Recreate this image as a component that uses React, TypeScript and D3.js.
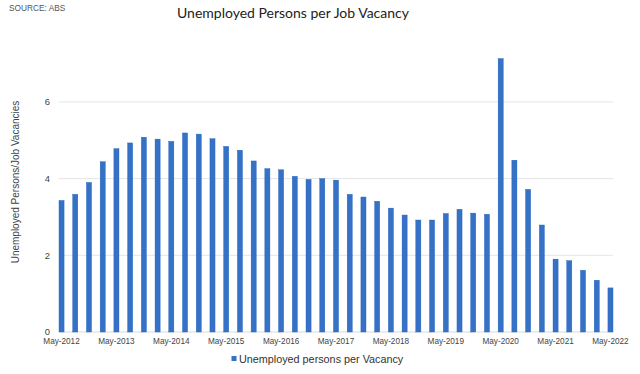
import React from 'react';
import * as d3 from 'd3';

// quarterly observations, May-2012 .. May-2022
const quarters = d3.range(41).map(i => {
  const m = ['May', 'Aug', 'Nov', 'Feb'][i % 4];
  const y = 2012 + Math.floor((i + 1) / 4);
  return `${m}-${y}`;
});

const ratio = [
  3.43, 3.59, 3.90, 4.44, 4.78, 4.93, 5.08, 5.03, 4.97, 5.19, 5.16, 5.04,
  4.84, 4.74, 4.46, 4.26, 4.23, 4.06, 3.98, 4.00, 3.96, 3.59, 3.52, 3.41,
  3.23, 3.05, 2.92, 2.92, 3.09, 3.20, 3.10, 3.07, 7.13, 4.48, 3.72, 2.79,
  1.90, 1.86, 1.61, 1.35, 1.15
];

const yTicks = [0, 2, 4, 6];

const W = 640;
const H = 374;
const margin = { top: 40, right: 27, bottom: 42, left: 59 };
const axisFont = '"Liberation Sans", Arial, sans-serif';

export default function App() {
  const x = d3.scaleBand<string>()
    .domain(quarters)
    .range([margin.left, W - margin.right])
    .paddingInner(0.63)
    .paddingOuter(0);
  const y = d3.scaleLinear()
    .domain([0, 7.6])
    .range([H - margin.bottom, H - margin.bottom - 7.6 * 38.35]);

  const bottom = y(0);
  const left = x.range()[0];
  const right = x.range()[1];

  return (
    <svg width={W} height={H} style={{ position: 'absolute', left: 0, top: 0, background: '#fff' }}>
      <text x={9} y={11} fontSize={8.3} fill="#555" fontFamily={axisFont}>SOURCE: ABS</text>
      <text x={293} y={17.5} textAnchor="middle" fontSize={14} fill="#222" fontFamily="Lato, sans-serif">
        Unemployed Persons per Job Vacancy
      </text>

      {yTicks.map(t => (
        <g key={t}>
          {t > 0 && <line x1={left} x2={right} y1={y(t)} y2={y(t)} stroke="#e5e5e5" strokeWidth={1} />}
          <text x={50} y={y(t)} dy="0.35em" textAnchor="end" fontSize={9.4} fill="#444" fontFamily={axisFont}>{t}</text>
        </g>
      ))}
      <line x1={left} x2={right} y1={bottom} y2={bottom} stroke="#d9d9d9" strokeWidth={1} />

      {ratio.map((v, i) => (
        <rect key={quarters[i]} x={x(quarters[i])} y={y(v)} width={x.bandwidth()} height={bottom - y(v)}
          fill="#3571c6" stroke="#1e62bd" strokeWidth={0.4} />
      ))}

      {quarters.map((q, i) => i % 4 === 0 && (
        <text key={q} x={(x(q) ?? 0) + x.bandwidth() / 2} y={344} textAnchor="middle" fontSize={8.2} fill="#444" fontFamily={axisFont}>{q}</text>
      ))}

      <text transform={`translate(19,${182}) rotate(-90)`} textAnchor="middle" fontSize={10} fill="#444" fontFamily={axisFont}>
        Unemployed Persons/Job Vacancies
      </text>

      <rect x={231.5} y={356} width={5} height={5} fill="#3571c6" />
      <text x={239} y={362.5} fontSize={10.8} fill="#333" fontFamily={axisFont}>Unemployed persons per Vacancy</text>
    </svg>
  );
}
